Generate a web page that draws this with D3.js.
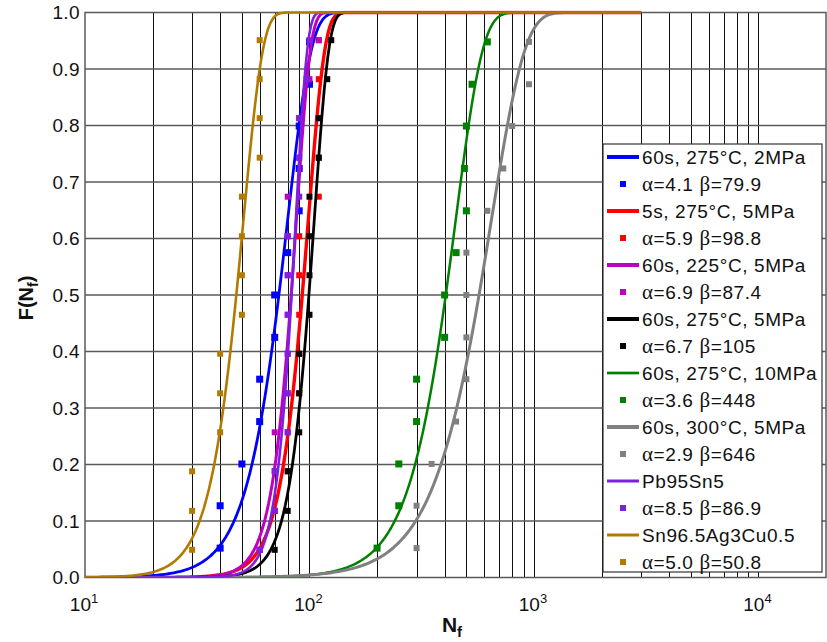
<!DOCTYPE html>
<html><head><meta charset="utf-8">
<script src="https://cdn.jsdelivr.net/npm/d3@7"></script>
<style>
html,body{margin:0;padding:0;background:#fff;}
svg{display:block;font-family:"Liberation Sans",Arial,sans-serif;}
</style></head>
<body>
<svg id="chart" width="827" height="642"></svg>
<script>
// ---- data ----
const seriesNames = ["60s, 275°C, 2MPa","5s, 275°C, 5MPa","60s, 225°C, 5MPa","60s, 275°C, 5MPa","60s, 275°C, 10MPa","60s, 300°C, 5MPa","Pb95Sn5","Sn96.5Ag3Cu0.5"];
const alphas = [4.1, 5.9, 6.9, 6.7, 3.6, 2.9, 8.5, 5.0];
const betas  = [79.9, 98.8, 87.4, 105, 448, 646, 86.9, 50.8];
const alphaLabels = ["4.1","5.9","6.9","6.7","3.6","2.9","8.5","5.0"];
const betaLabels  = ["79.9","98.8","87.4","105","448","646","86.9","50.8"];
// median-rank probabilities
const F13 = [0.052,0.127,0.201,0.276,0.351,0.425,0.500,0.575,0.649,0.724,0.799,0.873,0.948];
const F14 = [0.049,0.118,0.188,0.257,0.326,0.396,0.465,0.535,0.604,0.674,0.743,0.813,0.882,0.951];
// cycles to failure
const cyclesBlue    = [40,40,50,60,60,70,70,80,90,90,90,100,100];
const cyclesRed     = [60,70,80,80,90,90,90,90,90,110,110,110,110,110];
const cyclesMagenta = [60,70,70,70,80,80,80,80,80,80,90,90,100,110];
const cyclesBlack   = [70,80,80,90,90,90,100,100,100,100,110,110,120,125];
const cyclesGreen   = [200,250,250,300,300,400,400,450,500,490,500,530,620];
const cyclesGray    = [300,300,350,450,500,500,500,500,620,730,800,950,950];
const cyclesPurple  = [60,70,70,80,80,80,80,80,80,90,90,90,97,100];
const cyclesGold    = [30,30,30,40,40,40,50,50,50,50,60,60,60,60];
const xTickExps = [1,2,3,4];
const yTicks = [0,0.1,0.2,0.3,0.4,0.5,0.6,0.7,0.8,0.9,1.0];

// ---- styles ----
const colors = ["#0000ff","#ff0000","#bf00bf","#000000","#008000","#808080","#7f1fdf","#b27a00"];
const lineW  = [2.8,3.4,3.0,2.8,2.5,3.0,2.6,2.6];
const legLineW = [4,4,4,4,2.7,4,3,3];
const markerSize = [7,6,6,6,7,6,6,6];

const cycles = [cyclesBlue,cyclesRed,cyclesMagenta,cyclesBlack,cyclesGreen,cyclesGray,cyclesPurple,cyclesGold];
const probs  = [F13,F14,F14,F14,F13,F13,F14,F14];

const svg = d3.select("#chart");
const L = 85, R = 826, T = 12.5, B = 577.5;
const x = d3.scaleLog().domain([10, 20000]).range([L, R]);
const y = d3.scaleLinear().domain([0, 1]).range([B, T]);

svg.append("defs").append("clipPath").attr("id","clip")
  .append("rect").attr("x",L).attr("y",T-2).attr("width",R-L).attr("height",B-T+2);

// grid
const g = svg.append("g");
const minor = [];
for (let e = 1; e <= 4; e++) for (let m = 1; m <= 9; m++) { const v = m*Math.pow(10,e); if (v > 10 && v <= 10000) minor.push(v); }
g.selectAll("line.v").data(minor).enter().append("line")
  .attr("x1", d => Math.round(x(d)) + 0.5).attr("x2", d => Math.round(x(d)) + 0.5).attr("y1", T).attr("y2", B)
  .attr("stroke","#111").attr("stroke-width",1);
g.selectAll("line.h").data(yTicks.slice(1,-1)).enter().append("line")
  .attr("x1", L).attr("x2", R).attr("y1", d => y(d)).attr("y2", d => y(d))
  .attr("stroke","#5a5a5a").attr("stroke-width",1.4);
g.append("rect").attr("x",L).attr("y",T).attr("width",R-L).attr("height",B-T)
  .attr("fill","none").attr("stroke","#5a5a5a").attr("stroke-width",1.5);

// y tick labels
svg.selectAll("text.yt").data(yTicks).enter().append("text")
  .attr("x", 80).attr("y", d => y(d) + 6.5).attr("text-anchor","end")
  .attr("font-size",19).attr("letter-spacing",0.4).attr("fill","#111").text(d => d.toFixed(1));
// x tick labels
xTickExps.forEach(e => {
  const t = svg.append("text").attr("x", x(Math.pow(10,e)) - 1).attr("y", 611)
    .attr("text-anchor","middle").attr("font-size",19).attr("fill","#111");
  t.append("tspan").text("10");
  t.append("tspan").attr("dy",-8).attr("font-size",13).text(e);
});
// axis titles
const xl = svg.append("text").attr("x", 452).attr("y", 632).attr("text-anchor","middle")
  .attr("font-size",21).attr("font-weight","bold").attr("fill","#111");
xl.append("tspan").text("N");
xl.append("tspan").attr("dy",5).attr("font-size",15).text("f");
const yl = svg.append("text").attr("transform","translate(33,298) rotate(-90)").attr("text-anchor","middle")
  .attr("font-size",20).attr("font-weight","bold").attr("fill","#111");
yl.append("tspan").text("F(N");
yl.append("tspan").attr("dy",5).attr("font-size",14).text("f");
yl.append("tspan").attr("dy",-5).text(")");

// curves + points
const nGrid = d3.range(0, 301).map(i => Math.pow(10, 1 + i * (Math.log10(3000) - 1) / 300));
const line = d3.line().x(d => x(d[0])).y(d => y(d[1]));
const plot = svg.append("g").attr("clip-path","url(#clip)");
seriesNames.forEach((name, i) => {
  const pts = nGrid.map(n => [n, 1 - Math.exp(-Math.pow(n / betas[i], alphas[i]))]);
  plot.append("path").attr("d", line(pts)).attr("fill","none")
    .attr("stroke", colors[i]).attr("stroke-width", lineW[i]).attr("stroke-linejoin","round");
  const s = markerSize[i];
  plot.selectAll(null).data(cycles[i].map((c, k) => [c, probs[i][k]])).enter().append("rect")
    .attr("x", d => x(d[0]) - s/2).attr("y", d => y(d[1]) - s/2)
    .attr("width", s).attr("height", s).attr("fill", colors[i]);
});

// legend
const lg = svg.append("g");
lg.append("rect").attr("x",603).attr("y",144).attr("width",219).attr("height",428)
  .attr("fill","#fff").attr("stroke","#333").attr("stroke-width",1.2);
seriesNames.forEach((name, i) => {
  const y1 = 157 + i * 54, y2 = y1 + 27;
  lg.append("line").attr("x1",607).attr("x2",639).attr("y1",y1).attr("y2",y1)
    .attr("stroke",colors[i]).attr("stroke-width",legLineW[i]);
  lg.append("text").attr("x",642).attr("y",y1+6.5).attr("font-size",19).attr("letter-spacing",0.6)
    .attr("fill","#111").text(name);
  lg.append("rect").attr("x",620).attr("y",y2-3).attr("width",6).attr("height",6).attr("fill",colors[i]);
  const t = lg.append("text").attr("x",642).attr("y",y2+6.5).attr("font-size",19).attr("letter-spacing",0.6).attr("fill","#111");
  t.append("tspan").attr("font-family","'Liberation Serif',serif").attr("font-size",21).text("α");
  t.append("tspan").text("=" + alphaLabels[i] + " ");
  t.append("tspan").attr("font-family","'Liberation Serif',serif").attr("font-size",21).text("β");
  t.append("tspan").text("=" + betaLabels[i]);
});
</script>
</body></html>
